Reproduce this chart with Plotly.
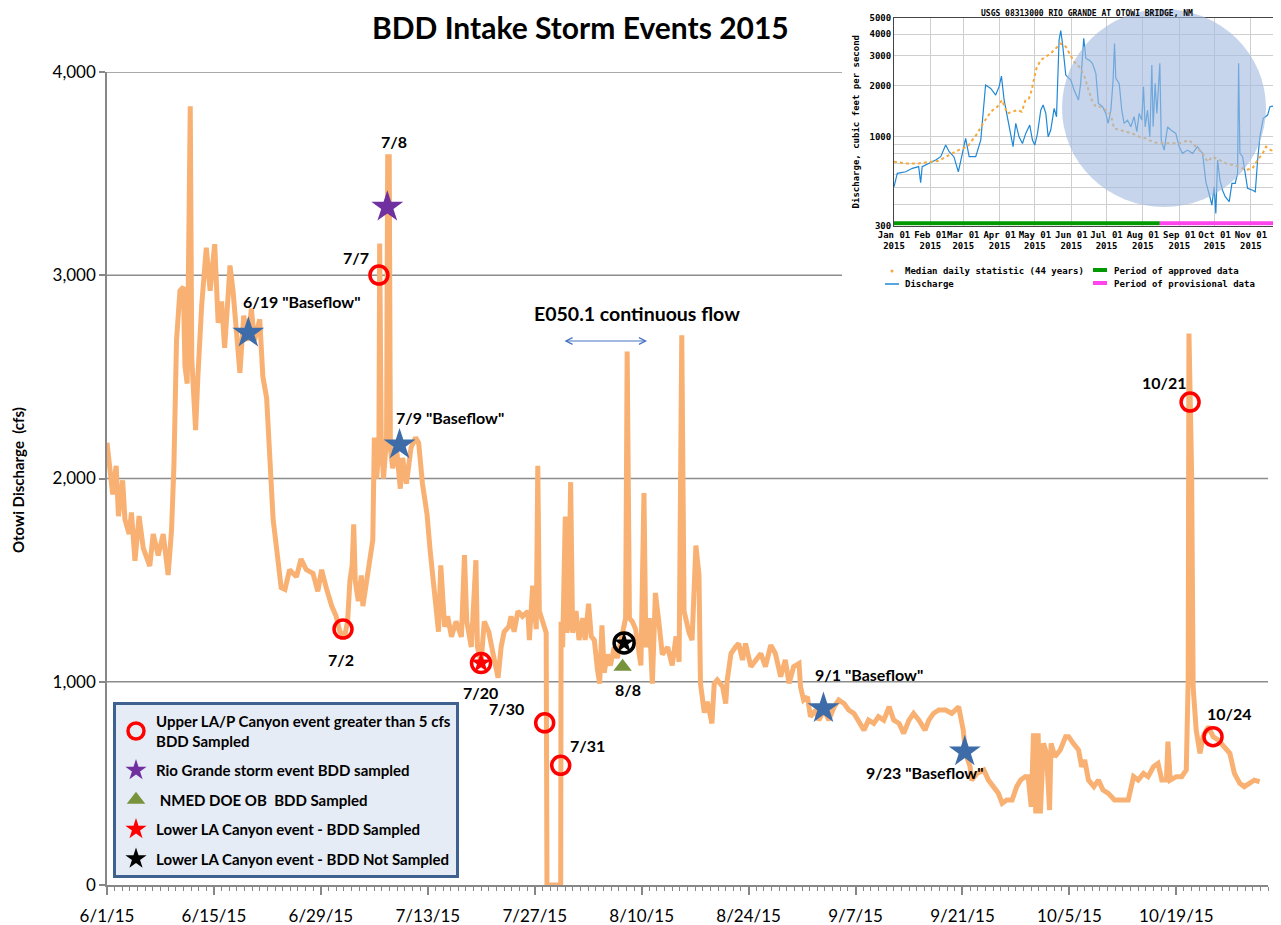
import math
import pandas as pd
import plotly.graph_objects as go

# ---------------- main series: Otowi discharge (days after 2015-06-01, cfs) ----------------
flow_day = [0, 0.4, 0.75, 1.2, 1.5, 2.05, 2.35, 2.9, 3.2, 3.66, 4.2, 4.75, 5.6, 6.05, 6.7, 7.36, 8.0, 8.45,
            8.76, 9.1, 9.55, 10.0, 10.2, 10.5, 10.76, 10.9, 11.1, 11.4, 11.6, 11.9, 12.4, 13.0, 13.5, 14.1,
            14.55, 15.0, 15.4, 15.9, 16.1, 16.5, 16.9, 17.4, 17.9, 18.5, 18.9, 19.3, 20.0, 20.4, 20.9, 21.3,
            21.75, 22.2, 22.8, 23.3, 23.9, 24.8, 25.4, 26.1, 26.97, 27.6, 28.1, 28.7, 29.4, 30.0,
            30.5, 31.1, 31.5, 31.8, 32.1, 32.3, 32.5, 32.9, 33.3, 33.5, 34.0, 34.5, 34.8, 35.0, 35.3, 35.6,
            35.7, 35.9, 36.2, 36.6, 36.75, 36.95, 37.1, 37.4, 37.9, 38.4, 38.7, 39.2, 39.8, 40.4, 40.8, 41.3,
            41.9, 42.3, 42.7, 43.1, 43.4, 43.7, 44.2, 44.6, 45.1, 45.7, 46.4, 46.8, 47.1, 47.7, 48.3, 48.5,
            48.97, 49.4, 49.98, 50.5, 51.2, 51.6, 52.0, 52.6, 52.9, 53.3, 53.8, 54.4, 55.1,
            55.3, 55.73, 56.2, 56.4, 56.6, 57.0, 57.5, 57.6, 59.4, 59.45, 59.65, 60.0, 60.2, 60.4, 60.7,
            60.96, 61.4, 61.8, 62.3, 62.6, 63.05, 63.4, 63.8, 64.2, 64.5, 64.8, 65.1, 65.5, 65.9, 66.4, 66.8,
            67.5, 67.9, 68.1, 68.4, 68.8, 69.2, 69.9, 70.3, 70.55, 71.0, 71.4, 71.8, 72.3, 72.7, 73.4, 74.0,
            74.5, 74.9, 75.25, 75.55, 76.2, 76.6, 77.1, 77.5, 77.7, 78.2, 78.6, 79.2, 79.5, 79.9,
            80.6, 81.0, 81.2, 81.7, 82.3, 82.7, 83.2, 83.6, 84.3, 84.9, 85.6, 86.2, 86.9, 87.5, 88.2, 88.8,
            89.3, 89.9, 90.6, 90.8, 91.2, 91.7, 92.1, 92.8, 93.2, 93.9, 94.5, 95.2, 95.8, 96.5, 97.1, 97.8,
            98.4, 99.1, 99.7, 100.4, 101.0, 101.7, 102.4, 103.0, 103.7, 104.3, 105.0, 105.6, 106.3, 107.1,
            107.6, 108.2, 108.9, 109.8, 110.6, 111.5, 112.1, 112.4, 113.0, 113.2, 113.9,
            114.8, 115.4, 116.1, 116.7, 117.2, 117.8, 118.5, 119.1, 119.6, 120.2, 120.6, 121.0, 121.3, 121.6,
            121.9, 122.2, 122.6, 123.0, 123.4, 123.6, 124.1, 124.8, 125.5, 125.9, 126.5, 127.2, 127.6, 128.0,
            128.5, 129.2, 129.8, 130.4, 131.1, 131.9, 132.8, 133.7, 134.4, 135.0, 135.7, 136.3, 137.0, 137.6,
            138.1, 138.7, 138.9, 139.2, 140.0, 140.7, 141.3, 141.55, 141.65, 142.0, 142.2, 142.6, 143.1,
            143.5, 144.2, 144.8, 145.5, 146.3, 147.0, 147.6, 148.3, 148.9, 149.6, 150.2, 150.9]
flow_cfs = [2176, 2044, 1921, 2062, 1815, 1991, 1798, 1727, 1833, 1595, 1815, 1657, 1569, 1727, 1622, 1727, 1525, 1745,
            2062, 2678, 2924, 2942, 2555, 2467, 3831, 3831, 2590, 2396, 2238, 2502, 2854, 3136, 2924, 3153,
            2766, 2871, 2643, 2924, 3048, 2924, 2766, 2520, 2801, 2678, 2836, 2678, 2783, 2502, 2396, 2150,
            1798, 1657, 1463, 1454, 1551, 1516, 1604, 1551, 1533, 1445, 1551, 1463, 1375, 1322,
            1246, 1221, 1297, 1497, 1573, 1774, 1497, 1397, 1523, 1372, 1497, 1648, 1698, 2201, 2000, 2150,
            3156, 2201, 2000, 2201, 3583, 3583, 2151, 2050, 2151, 1950, 2101, 1975, 2151, 2201, 2176, 1975,
            1824, 1648, 1497, 1397, 1246, 1573, 1271, 1322, 1221, 1297, 1221, 1623, 1297, 1171, 1598, 1171,
            1095, 1297, 1246, 1146, 1020, 1171, 1246, 1271, 1322, 1246, 1347, 1322, 1347,
            1205, 1473, 1259, 2063, 1348, 1295, 1241, 0, 0, 1295, 1170, 1813, 1241, 1277, 1982,
            1241, 1348, 1205, 1313, 1205, 1384, 1223, 1205, 1063, 991, 1277, 1045, 1134, 1080, 1170, 1116,
            1241, 1313, 2625, 1313, 1295, 1259, 1080, 1929, 1170, 1313, 991, 1437, 1277, 1134, 1170, 1080,
            1223, 1098, 2705, 1348, 1241, 1205, 1670, 1527, 991, 848, 902, 795, 991, 1009,
            975, 893, 1008, 1139, 1172, 1188, 1107, 1188, 1074, 1107, 1139, 1074, 1180, 1139, 1025, 1107,
            992, 1074, 1090, 975, 910, 926, 828, 861, 811, 861, 811, 877, 910, 893, 861, 844,
            811, 762, 811, 795, 828, 811, 877, 811, 795, 746, 811, 844, 811, 762,
            811, 844, 861, 861, 844, 877, 762, 648, 582, 516, 549,
            566, 516, 484, 451, 402, 418, 418, 484, 516, 533, 533, 385, 746, 352,
            746, 352, 697, 648, 369, 697, 631, 664, 730, 730, 697, 664, 582, 615,
            516, 484, 516, 467, 451, 418, 418, 418, 533, 516, 549, 533, 582, 598,
            516, 516, 705, 516, 533, 533, 566, 1008, 2713, 2025, 975, 762, 648,
            730, 779, 730, 713, 680, 648, 549, 500, 484, 500, 516, 508]

# ---------------- event markers ----------------
upper_day = [30.9, 35.6, 57.3, 59.4, 141.8, 144.8]
upper_cfs = [1259, 3001, 798, 589, 2376, 730]
rio_day, rio_cfs = [36.7], [3336]
nmed_day, nmed_cfs = [67.5], [1074]
lower_s_day, lower_s_cfs = [48.97], [1092]
lower_ns_day, lower_ns_cfs = [67.7], [1191]
base_day = [18.5, 38.3, 93.8, 112.3]
base_cfs = [2716, 2166, 869, 656]

x_tick_labels = ["6/1/15", "6/15/15", "6/29/15", "7/13/15", "7/27/15", "8/10/15",
                 "8/24/15", "9/7/15", "9/21/15", "10/5/15", "10/19/15"]
y_tick_vals = [0, 1000, 2000, 3000, 4000]

# ---------------- inset: USGS 08313000 (days after 2015-01-01, cfs) ----------------
usgs_q_day = [0, 2.8, 10, 15.6, 21, 22.7, 24, 29.8, 35.5, 39.8, 44, 47, 51, 54.8, 57.7, 61, 64, 69.6, 73.9, 77.3,
              78, 82.4, 86.6, 89.5, 91.5, 93.8, 96.6, 99.4, 101.4, 103.7, 106.5, 109.4, 112.2, 115.6, 117.9,
              119.9, 122.2, 125, 127, 129.3, 131.3, 133.5, 136.4, 138.4, 140.6, 142, 143.5, 146.3, 150.6, 153.4,
              157.1, 159, 160.5, 161.6, 163.4, 166.2, 169, 171.9, 174.1, 177.6, 180.4, 182.4, 184.7, 186.6,
              187.8, 188.9, 191.8, 194, 196, 198.9, 201.7, 204.5, 206.8, 208.8, 211, 212.5, 213.9, 215.9,
              217.9, 219.6, 220.7, 222.4, 223.9, 226.4, 227.6, 230.1, 233, 235.8, 240, 242.9, 245.7, 250,
              254.3, 258.5, 262.8, 264.2, 265.6, 269, 270.7, 272.7, 274.1, 275.6, 277.6, 279.8, 282.1, 285.5,
              287.8, 290.6, 292.6, 293.5, 294.6, 296.9, 299.1, 301.1, 305.4, 307.7, 309.7, 311.6, 314.5,
              318.2, 320.2, 323.9, 328.9]
usgs_q_cfs = [508, 609, 622, 652, 667, 536, 667, 697, 730, 763, 893, 816, 763, 622, 780, 977, 763, 763, 955, 1640,
              2010, 1921, 1757, 1967, 2271, 1640, 1310, 1045, 873, 1197, 998, 912, 1045, 1170, 955,
              893, 1045, 1432, 1534, 1371, 998, 1094, 1466, 1310, 3698, 4200, 3531, 2301, 2152, 1880,
              1640, 2056, 3227, 3784, 2882, 2818, 2697, 2356, 1570, 1500, 1371, 1197, 1432, 2152,
              3531, 2202, 2056, 1432, 1197, 1251, 1143, 1310, 1069, 1371, 1251, 1967, 1143, 1432,
              998, 2637, 1143, 2056, 1371, 2697, 955, 834, 1143, 1094, 1045, 873, 798, 834,
              798, 873, 798, 667, 543, 444, 396, 508, 354, 730, 556, 485, 444, 415,
              532, 532, 609, 2697, 798, 763, 609, 497, 485, 475, 730, 998, 1282,
              1340, 1500, 1514, 1466]
usgs_med_day = [0, 10, 21, 30, 38, 47, 55, 62.5, 66.8, 71, 75, 79.5, 84, 88, 92, 96.6, 101, 105, 108.8, 112, 115,
                117.3, 119.3, 121.3, 125, 129.3, 133.5, 137.8, 142, 146.3, 149.7, 153.4, 157.7, 161.9, 164.8,
                168.5, 171.9, 176, 180.4, 184.7, 187.5, 191.8, 197.4, 203.1, 208.8, 214.5, 220.2, 225.9, 231.5,
                237.2, 242.9, 251.4, 257.1, 262.8, 267, 271.3, 277, 282.7, 288.4, 294, 299.7, 305.4, 309.7, 314,
                316.8, 321, 325.3, 329]
usgs_med_cfs = [713, 697, 697, 713, 722, 780, 834, 873, 955, 1045, 1170, 1310, 1432, 1500, 1640, 1371, 1403, 1432,
                1403, 1640, 1679, 1880, 2202, 2518, 2818, 2950, 3085, 3303, 3531, 3380, 3085, 2754, 2576, 2301,
                1967, 1640, 1500, 1500, 1432, 1340, 1119, 1094, 1069, 1045, 998, 977, 933, 914, 914, 923, 914,
                955, 873, 798, 713, 763, 730, 697, 681, 667, 637, 652, 730, 798, 873, 834, 816, 816]
approved_day = [0, 226.4]
provisional_day = [226.4, 329.6]
usgs_month_labels = ["Jan 01", "Feb 01", "Mar 01", "Apr 01", "May 01", "Jun 01", "Jul 01", "Aug 01",
                     "Sep 01", "Oct 01", "Nov 01"]
usgs_y_vals = [300, 400, 500, 600, 700, 800, 900, 1000, 2000, 3000, 4000, 5000]
usgs_y_labels = ["300", "", "", "", "", "", "", "1000", "2000", "3000", "4000", "5000"]

assert len(flow_day) == len(flow_cfs)
assert len(usgs_q_day) == len(usgs_q_cfs)
assert len(usgs_med_day) == len(usgs_med_cfs)

START = pd.Timestamp("2015-06-01")
JAN1 = pd.Timestamp("2015-01-01")


def dates(days, base=START):
    return [base + pd.Timedelta(days=d) for d in days]


# ---------------- layout geometry ----------------
# The page body adds an 8 px offset, so the figure is 8 px smaller and all
# screen positions below are converted to figure-relative positions.
OFF = 8
W, H = 1281 - OFF, 925 - OFF
ML = 107 - OFF          # y-axis at screen x=107
PLOT_BOTTOM = 885       # x-axis at screen y=885
MB = H - (PLOT_BOTTOM - OFF)
PW, PH = W - ML, H - MB


def px(X):
    return (X - OFF - ML) / PW


def py(Y):
    return (PH - (Y - OFF)) / PH


FONT = "Lato"
MONO = "DejaVu Sans Mono"
AX = "#878787"
ORANGE = "#F8B172"

fig = go.Figure()

# main line
fig.add_trace(go.Scatter(x=dates(flow_day), y=flow_cfs, mode="lines",
                         line=dict(color=ORANGE, width=5), showlegend=False, hoverinfo="skip"))
# baseflow stars
fig.add_trace(go.Scatter(x=dates(base_day), y=base_cfs, mode="markers", showlegend=False,
                         marker=dict(symbol="star", size=24, color="#3D6CA9", line=dict(width=0))))
# rings around lower LA canyon events
fig.add_trace(go.Scatter(x=dates(lower_s_day), y=lower_s_cfs, mode="markers", showlegend=False,
                         marker=dict(symbol="circle-open", size=19, color="#FF0000", line=dict(width=3.5, color="#FF0000"))))
fig.add_trace(go.Scatter(x=dates(lower_ns_day), y=lower_ns_cfs, mode="markers", showlegend=False,
                         marker=dict(symbol="circle-open", size=20, color="#000000", line=dict(width=3.5, color="#000000"))))

lg = 0
def grp():
    global lg
    lg += 1
    return "g%d" % lg

fig.add_trace(go.Scatter(x=dates(upper_day), y=upper_cfs, mode="markers", legendgroup=grp(),
                         name="<b>Upper LA/P Canyon event greater than 5 cfs<br>BDD Sampled</b>",
                         marker=dict(symbol="circle-open", size=18, color="#FF0000", line=dict(width=3.5, color="#FF0000"))))
fig.add_trace(go.Scatter(x=dates(rio_day), y=rio_cfs, mode="markers", legendgroup=grp(),
                         name="<b>Rio Grande storm event BDD sampled</b>",
                         marker=dict(symbol="star", size=24, color="#7030A0", line=dict(width=0))))
fig.add_trace(go.Scatter(x=dates(nmed_day), y=nmed_cfs, mode="markers", legendgroup=grp(),
                         name="<b> NMED DOE OB  BDD Sampled</b>",
                         marker=dict(symbol="triangle-up", size=16, color="#77933C", line=dict(width=0))))
fig.add_trace(go.Scatter(x=dates(lower_s_day), y=lower_s_cfs, mode="markers", legendgroup=grp(),
                         name="<b>Lower LA Canyon event - BDD Sampled</b>",
                         marker=dict(symbol="star", size=16, color="#FF0000", line=dict(width=0))))
fig.add_trace(go.Scatter(x=dates(lower_ns_day), y=lower_ns_cfs, mode="markers", legendgroup=grp(),
                         name="<b>Lower LA Canyon event - BDD Not Sampled</b>",
                         marker=dict(symbol="star", size=16, color="#000000", line=dict(width=0))))

# ---------------- inset traces ----------------
fig.add_trace(go.Scatter(x=dates(usgs_q_day, JAN1), y=usgs_q_cfs, mode="lines", xaxis="x2", yaxis="y2",
                         line=dict(color="#1E88D6", width=1.2), showlegend=False, hoverinfo="skip"))
fig.add_trace(go.Scatter(x=dates(usgs_med_day, JAN1), y=usgs_med_cfs, mode="lines", xaxis="x2", yaxis="y2",
                         line=dict(color="#F7A83A", width=2, dash="dot"), showlegend=False, hoverinfo="skip"))
fig.add_trace(go.Scatter(x=dates(approved_day, JAN1), y=[310, 310], mode="lines", xaxis="x2", yaxis="y2",
                         line=dict(color="#009A00", width=4), showlegend=False, cliponaxis=False, hoverinfo="skip"))
fig.add_trace(go.Scatter(x=dates(provisional_day, JAN1), y=[310, 310], mode="lines", xaxis="x2", yaxis="y2",
                         line=dict(color="#FF44EE", width=4), showlegend=False, cliponaxis=False, hoverinfo="skip"))

# ---------------- shapes ----------------
shapes = []
for v, xr in [(1000, 1268), (2000, 1268), (3000, 842), (4000, 842)]:
    shapes.append(dict(type="line", xref="paper", yref="y", x0=0, x1=px(xr), y0=v, y1=v,
                       line=dict(color="#8C8C8C", width=1.5), layer="below"))
# highlight circle on inset
shapes.append(dict(type="circle", xref="paper", yref="paper", x0=px(1062), x1=px(1266), y0=py(207), y1=py(9),
                   fillcolor="rgba(163,187,223,0.62)", line=dict(width=0), layer="above"))
# inset legend glyphs
shapes.append(dict(type="circle", xref="paper", yref="paper", x0=px(890.5), x1=px(893.5), y0=py(272.5), y1=py(269.5),
                   fillcolor="#F7A83A", line=dict(width=0)))
shapes.append(dict(type="line", xref="paper", yref="paper", x0=px(885), x1=px(899), y0=py(284), y1=py(284),
                   line=dict(color="#1E88D6", width=1.5)))
shapes.append(dict(type="line", xref="paper", yref="paper", x0=px(1093), x1=px(1107), y0=py(270), y1=py(270),
                   line=dict(color="#009A00", width=4)))
shapes.append(dict(type="line", xref="paper", yref="paper", x0=px(1093), x1=px(1107), y0=py(283), y1=py(283),
                   line=dict(color="#FF44EE", width=4)))

# ---------------- annotations ----------------
ann = []
def text(s, X, Y, size=16, bold=True, xanchor="center", family=FONT, angle=0, color="black"):
    ann.append(dict(text=("<b>%s</b>" % s) if bold else s, x=px(X), y=py(Y), xref="paper", yref="paper",
                    xanchor=xanchor, yanchor="middle", showarrow=False, textangle=angle,
                    font=dict(family=family, size=size, color=color)))

text("BDD Intake Storm Events 2015", 580, 27, size=30)
text("Otowi Discharge  (cfs)", 18, 480, size=15, angle=-90)
text('6/19 "Baseflow"', 302, 301)
text("7/8", 394, 142)
text("7/7", 356, 258)
text('7/9 "Baseflow"', 450, 417)
text("7/2", 341, 659)
text("7/20", 480, 692)
text("7/30", 506, 708)
text("7/31", 587, 745)
text("8/8", 628, 689)
text("E050.1 continuous flow", 637, 313, size=19.5)
text('9/1 "Baseflow"', 869, 674)
text('9/23 "Baseflow"', 925, 772)
text("10/21", 1164, 382)
text("10/24", 1229, 713)
# inset texts
text("Median daily statistic (44 years)", 903, 271, size=9, family=MONO, xanchor="left")
text("Discharge", 903, 284, size=9, family=MONO, xanchor="left")
text("Period of approved data", 1112, 271, size=9, family=MONO, xanchor="left")
text("Period of provisional data", 1112, 284, size=9, family=MONO, xanchor="left")
text("USGS 08313000 RIO GRANDE AT OTOWI BRIDGE, NM", 1087, 13.5, size=8, family=MONO)
# double arrow
ann.append(dict(x=px(647), y=py(341), xref="paper", yref="paper", ax=-84, ay=0, text="", showarrow=True,
                arrowside="end+start", arrowhead=5, startarrowhead=5, arrowsize=1.3, startarrowsize=1.3,
                arrowwidth=1, arrowcolor="#4472C4"))

fig.update_layout(
    width=W, height=H, margin=dict(l=ML, r=0, t=0, b=MB, autoexpand=False),
    paper_bgcolor="white", plot_bgcolor="white",
    font=dict(family=FONT, color="black"),
    shapes=shapes, annotations=ann,
    showlegend=True,
    legend=dict(x=px(113), y=py(702), xanchor="left", yanchor="top", bgcolor="#E6ECF5",
                bordercolor="#3F6190", borderwidth=3, font=dict(family=FONT, size=15, color="black"),
                traceorder="grouped", tracegroupgap=7, itemsizing="trace"),
    xaxis=dict(domain=[0, px(1268)], range=[START, START + pd.Timedelta(days=152)], type="date",
               automargin=False,
               tickmode="array", tickvals=dates([14 * k for k in range(11)]), ticktext=x_tick_labels,
               ticks="outside", ticklen=8, tickcolor=AX, tickwidth=1.5, showline=True, linecolor=AX, linewidth=1.5,
               showgrid=False, zeroline=False, tickfont=dict(family=FONT, size=17), ticklabelstandoff=7,
               minor=dict(ticks="outside", ticklen=4, tickcolor=AX, tickwidth=1, dtick=86400000,
                          tick0="2015-06-01", showgrid=False)),
    yaxis=dict(domain=[0, py(72)], range=[0, 4000], tickmode="array", tickvals=y_tick_vals, tickformat=",",
               automargin=False,
               ticks="outside", ticklen=6, tickcolor=AX, tickwidth=1.5, showline=True, linecolor=AX, linewidth=1.5,
               showgrid=False, zeroline=False, tickfont=dict(family=FONT, size=17)),
    xaxis2=dict(domain=[px(894), 1], anchor="y2", type="date", automargin=False,
                range=[JAN1, JAN1 + pd.Timedelta(days=329.6)],
                tickmode="array", tickvals=[pd.Timestamp(2015, m, 1) for m in range(1, 12)],
                ticktext=["%s<br>2015" % s for s in usgs_month_labels], tickangle=0,
                showgrid=True, gridcolor="#CFCFCF", gridwidth=1, showline=True, linecolor="#444", linewidth=1,
                mirror=True, ticks="", zeroline=False,
                tickfont=dict(family=MONO, size=9, color="black", weight="bold")),
    yaxis2=dict(domain=[py(225.7), py(17.7)], anchor="x2", type="log", automargin=False,
                range=[math.log10(300), math.log10(5000)],
                tickmode="array", tickvals=usgs_y_vals, ticktext=usgs_y_labels,
                showgrid=True, gridcolor="#CFCFCF", gridwidth=1, showline=True, linecolor="#444", linewidth=1,
                mirror=True, ticks="", zeroline=False,
                tickfont=dict(family=MONO, size=9, color="black", weight="bold"),
                title=dict(text="Discharge, cubic feet per second", standoff=8,
                           font=dict(family=MONO, size=9, color="black", weight="bold"))),
)

fig.write_html("out.html")
